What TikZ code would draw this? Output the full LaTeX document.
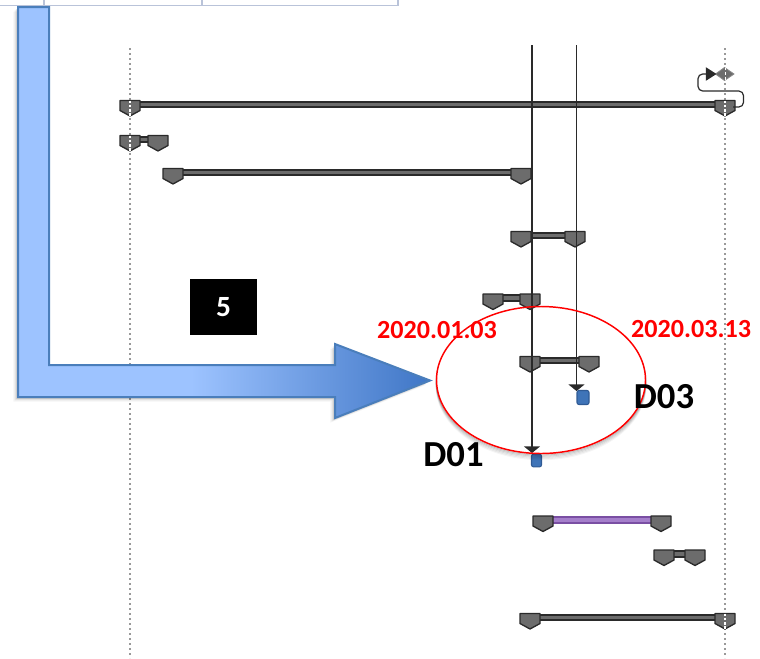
\documentclass[tikz,border=0pt]{standalone}
\usepackage{fontspec}
\setmainfont{Carlito}
\usetikzlibrary{arrows.meta}
\definecolor{arrowlight}{HTML}{9DC3FF}
\definecolor{arrowdark}{HTML}{3F76C6}
\definecolor{arrowedge}{HTML}{4A7EBB}
\definecolor{barDark}{HTML}{2A2A2A}
\definecolor{barMid}{HTML}{6C6C6C}
\definecolor{tableline}{HTML}{B9C3D9}
\definecolor{purpleDark}{HTML}{7A4FA3}
\definecolor{purpleMid}{HTML}{A57FCB}
\definecolor{msFill}{HTML}{3F74B8}
\definecolor{msEdge}{HTML}{2F5A94}
\pgfdeclarehorizontalshading{arrowblue}{100bp}{color(0bp)=(arrowlight); color(46bp)=(arrowlight); color(75bp)=(arrowdark); color(100bp)=(arrowdark)}
\tikzset{
  gridline/.style={draw=gray!80, line width=1.1pt, dash pattern=on 1.3pt off 2.45pt},
  tableedge/.style={draw=tableline, line width=1pt},
  barouter/.style={draw=barDark, line width=5.6pt},
  barinner/.style={draw=barMid, line width=2.8pt},
  purpleouter/.style={draw=purpleDark, line width=5.6pt},
  purpleinner/.style={draw=purpleMid, line width=2.4pt},
  capshape/.style={fill=barMid, draw=barDark, line width=1pt, line join=round},
  capmark/.style={draw=white, line width=.8pt, dash pattern=on 2pt off 1.2pt},
  linkline/.style={draw=barDark, line width=1.25pt, -{Triangle[width=12pt,length=5pt]}},
  datetext/.style={text=red, font=\fontsize{19.6}{22}\selectfont\bfseries, inner sep=0pt},
  tagtext/.style={text=black, font=\fontsize{27.5}{30}\selectfont\bfseries, inner sep=0pt},
  milestone/.style={fill=msFill, draw=msEdge, line width=.8pt, rounded corners=1.5pt},
  gcap/.pic={\path[capshape] (-10,-4) -- (10,-4) -- (10,6) -- (0,11.5) -- (-10,6) -- cycle;}
}
\newcommand{\ganttbar}[5]{%
  \coordinate (#1a) at (#2,#4);
  \coordinate (#1b) at (#3,#4);
  \path[#5outer] (#1a) -- (#1b);
  \path[#5inner] (#1a) -- (#1b);
  \pic at (#1a) {gcap};
  \pic at (#1b) {gcap};
}
\begin{document}
\begin{tikzpicture}[x=0.75pt,y=-0.75pt]
\useasboundingbox (0,0) rectangle (760,658);
% table remnant
\coordinate (t0) at (0,5.5); \coordinate (t1) at (398,5.5);
\coordinate (t2) at (398,0); \coordinate (t3) at (44,0); \coordinate (t4) at (44,5.5);
\coordinate (t5) at (202,0); \coordinate (t6) at (202,5.5);
\path[tableedge] (t0) -- (t1) -- (t2);
\path[tableedge] (t3) -- (t4);
\path[tableedge] (t5) -- (t6);
% dotted timeline edges
\coordinate (g1a) at (130,48); \coordinate (g1b) at (130,658);
\coordinate (g2a) at (725,48); \coordinate (g2b) at (725,658);
\path[gridline] (g1a) -- (g1b);
\path[gridline] (g2a) -- (g2b);
% summary bars
\ganttbar{b1}{130}{725}{104.5}{bar}
\ganttbar{b2}{130}{158}{139.5}{bar}
\ganttbar{b3}{173}{521}{172.5}{bar}
\ganttbar{b4}{521}{575}{235.5}{bar}
\ganttbar{b5}{493}{530}{298}{bar}
\ganttbar{b6}{530}{589}{360.5}{bar}
\ganttbar{b7}{543}{661}{520}{purple}
\ganttbar{b8}{664}{695}{554}{bar}
\ganttbar{b9}{530}{725}{617.5}{bar}
\foreach \yy in {104.5,139.5}{\draw[capmark] (130,\yy-4) -- (130,\yy+11);}
\foreach \yy in {104.5,617.5}{\draw[capmark] (725,\yy-4) -- (725,\yy+11);}
% loop at the top right
\path[fill=barMid, draw=barMid!80, line width=.6pt] (715.5,74) -- (724.5,67.5) -- (734,74) -- (724.5,80.5) -- cycle;
\draw[white, line width=.7pt, dash pattern=on 2pt off 1.5pt] (725,67.5) -- (725,80.5);
\coordinate (loopstart) at (733,107);
\coordinate (loopend) at (716.5,74);
\draw[draw=barDark, line width=.9pt, rounded corners=3.5pt, -{Triangle[width=10pt,length=8pt]}]
  (loopstart) -- (743.5,107) -- (743.5,91) -- (698,91) -- (698,74) -- (loopend);
% milestones and links
\node[milestone, minimum width=9pt, minimum height=10.5pt, inner sep=0pt] (m3) at (583,397.5) {};
\node[milestone, minimum width=7.5pt, minimum height=9.5pt, inner sep=0pt] (m1) at (536.5,460.5) {};
\coordinate (l1) at (532,45); \coordinate (l1e) at (532,453);
\coordinate (l3) at (576.5,45); \coordinate (l3e) at (576.5,391);
\path[linkline] (l1) -- (l1e);
\path[linkline] (l3) -- (l3e);
% ellipse shadow
\coordinate (circ) at (541,380);
\begin{scope}[even odd rule]
  \clip (300,250) rectangle (760,500) (circ) ellipse [x radius=104.5, y radius=73.5];
  \foreach \dd/\oo in {1/.16,2.2/.12,3.4/.09,4.6/.06,5.8/.04}
    \draw[black, opacity=\oo, line width=1.3pt] (541,380+\dd) ellipse [x radius=104.5, y radius=73.5];
\end{scope}
\draw[red, line width=1.1pt] (circ) ellipse [x radius=104.5, y radius=73.5];
% big arrow
\coordinate (a1) at (18,7); \coordinate (a2) at (49,7); \coordinate (a3) at (49,365);
\coordinate (a4) at (335,365); \coordinate (a5) at (335,344); \coordinate (a6) at (430,380.5);
\coordinate (a7) at (335,418); \coordinate (a8) at (335,397); \coordinate (a9) at (18,397);
\foreach \dd/\oo in {1/.14,2.2/.10,3.4/.07,4.6/.04}
  \path[fill=black, fill opacity=\oo, shift={(-\dd,\dd)}] (18,7) -- (49,7) -- (49,365) -- (335,365) -- (335,344) -- (430,380.5) -- (335,418) -- (335,397) -- (18,397) -- cycle;
\path[shading=arrowblue, draw=arrowedge, line width=1.5pt, line join=miter] (a1) -- (a2) -- (a3) -- (a4) -- (a5) -- (a6) -- (a7) -- (a8) -- (a9) -- cycle;
% labels
\node[fill=black, text=white, minimum width=50.25pt, minimum height=42pt, inner sep=0pt, font=\fontsize{22}{24}\selectfont\bfseries] (five) at (223.5,307) {5};
\node[datetext] (d1) at (437,330.5) {2020.01.03};
\node[datetext] (d3) at (691,329.5) {2020.03.13};
\node[tagtext] (t1lab) at (453.5,455) {D01};
\node[tagtext] (t3lab) at (664,397) {D03};
\end{tikzpicture}
\end{document}
